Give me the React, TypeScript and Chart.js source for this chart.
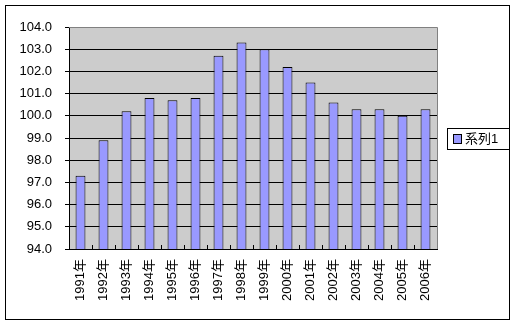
import React, { useEffect, useRef } from "react";
import { Chart, registerables } from "chart.js";

Chart.register(...registerables);

const categories = ["1991年","1992年","1993年","1994年","1995年","1996年","1997年","1998年","1999年","2000年","2001年","2002年","2003年","2004年","2005年","2006年"];
const series1 = [97.3, 98.9, 100.2, 100.8, 100.7, 100.8, 102.7, 103.3, 103.0, 102.2, 101.5, 100.6, 100.3, 100.3, 100.0, 100.3];
const seriesName = "系列1";
const yMin = 94;
const yMax = 104;

const FONT = "'Liberation Sans', 'Noto Sans CJK JP', sans-serif";

const decor = {
  id: "decor",
  beforeDraw(chart: any) {
    const { ctx, chartArea } = chart;
    ctx.save();
    ctx.fillStyle = "#fff";
    ctx.fillRect(0, 0, chart.width, chart.height);
    ctx.fillStyle = "#CCCCCC";
    ctx.fillRect(chartArea.left, chartArea.top, chartArea.right - chartArea.left, chartArea.bottom - chartArea.top);
    ctx.strokeStyle = "#000";
    ctx.lineWidth = 1;
    ctx.strokeRect(5.5, 5.5, 504, 314);
    ctx.restore();
  },
  afterDraw(chart: any) {
    const { ctx, chartArea } = chart;
    ctx.save();
    ctx.strokeStyle = "#808080";
    ctx.lineWidth = 1;
    ctx.beginPath();
    ctx.moveTo(chartArea.left, chartArea.top + 0.5);
    ctx.lineTo(chartArea.right + 0.5, chartArea.top + 0.5);
    ctx.lineTo(chartArea.right + 0.5, chartArea.bottom);
    ctx.stroke();
    // inward x-axis tick marks at category boundaries
    const xs = chart.scales.x;
    const n = categories.length;
    ctx.strokeStyle = "#000";
    ctx.beginPath();
    for (let i = 1; i < n; i++) {
      const px = Math.round((xs.getPixelForTick(i - 1) + xs.getPixelForTick(i)) / 2) + 0.5;
      ctx.moveTo(px, chartArea.bottom);
      ctx.lineTo(px, chartArea.bottom - 4);
    }
    ctx.stroke();
    // legend
    ctx.fillStyle = "#fff";
    ctx.fillRect(447, 128, 62, 21);
    ctx.strokeStyle = "#000";
    ctx.strokeRect(447.5, 128.5, 62, 21);
    ctx.fillStyle = "#9999FF";
    ctx.fillRect(453, 134, 8, 9);
    ctx.strokeRect(453.5, 134.5, 8, 9);
    ctx.fillStyle = "#000";
    ctx.font = "13px " + FONT;
    ctx.textBaseline = "middle";
    ctx.textAlign = "left";
    ctx.fillText(seriesName, 465, 139.5);
    ctx.restore();
  },
};

export default function App() {
  const ref = useRef<HTMLCanvasElement | null>(null);
  useEffect(() => {
    if (!ref.current) return;
    const chart = new Chart(ref.current, {
      type: "bar",
      data: {
        labels: categories,
        datasets: [
          {
            label: seriesName,
            data: series1,
            backgroundColor: "#9999FF",
            borderColor: "#000",
            borderWidth: 1,
            barPercentage: 0.43,
            categoryPercentage: 1,
          },
        ],
      },
      options: {
        animation: false,
        responsive: false,
        devicePixelRatio: 1,
        layout: { padding: { top: 27, right: 82, bottom: 0, left: 0 } },
        plugins: { legend: { display: false }, tooltip: { enabled: false } },
        scales: {
          x: {
            afterFit: (s: any) => { s.height = 78; },
            grid: { drawOnChartArea: false, drawTicks: false, color: "#000", offset: true },
            border: { color: "#000", width: 1 },
            ticks: { minRotation: 90, maxRotation: 90, padding: 10, color: "#000", font: { size: 13, family: FONT }, autoSkip: false },
          },
          y: {
            min: yMin,
            max: yMax,
            afterFit: (s: any) => { s.width = 69; },
            grid: { color: "#000", tickLength: 4, drawTicks: true },
            border: { color: "#000", width: 1 },
            ticks: {
              stepSize: 1,
              padding: 13,
              color: "#000",
              font: { size: 13, family: FONT },
              callback: (v: any) => Number(v).toFixed(1),
            },
          },
        },
      },
      plugins: [decor],
    });
    return () => chart.destroy();
  }, []);
  return (
    <div style={{ position: "fixed", left: 0, top: 0, width: 519, height: 327 }}>
      <canvas ref={ref} width={519} height={327} style={{ width: 519, height: 327, display: "block" }} />
    </div>
  );
}
